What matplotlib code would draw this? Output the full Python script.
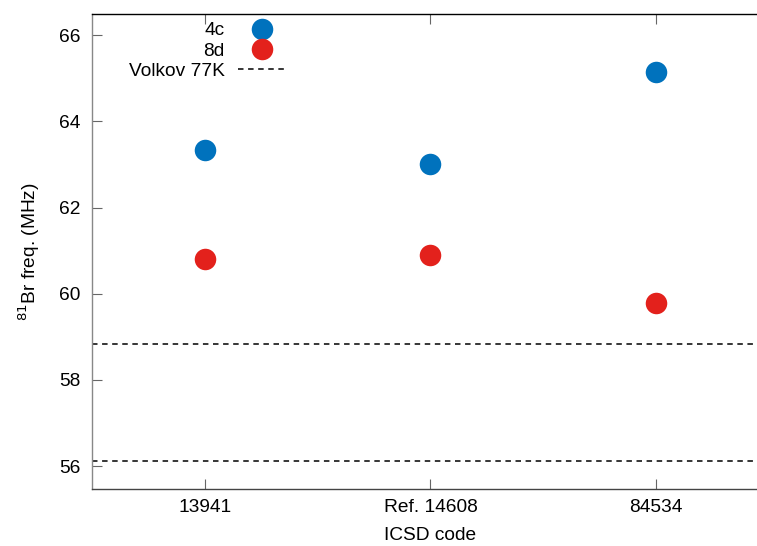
import matplotlib
matplotlib.use("Agg")
import matplotlib.pyplot as plt
from matplotlib.lines import Line2D

categories = ["13941", "Ref. 14608", "84534"]
freq_4c = [63.33, 63.01, 65.14]
freq_8d = [60.80, 60.90, 59.78]
volkov_77k = [58.83, 56.12]
yticks = [56, 58, 60, 62, 64, 66]

plt.rcParams['font.family'] = ['Liberation Sans', 'DejaVu Sans']
fs = 13.8

fig = plt.figure(figsize=(7.57, 5.46), dpi=100)
ax = fig.add_axes([92/757, (546-489)/546, (769-92)/757, (489-14)/546])

blue = "#0072bd"
red = "#e3211c"
x = list(range(len(categories)))

for v in volkov_77k:
    ax.axhline(v, color="black", lw=1.1, ls=(0, (3.6, 3.0)), zorder=1)
ax.plot(x, freq_4c, "o", color=blue, ms=15.5, mec="none", zorder=3)
ax.plot(x, freq_8d, "o", color=red, ms=15.5, mec="none", zorder=3)

ax.set_xlim(-0.5, 2.5)
ax.set_ylim(55.47, 66.49)
ax.set_xticks(x)
ax.set_xticklabels(categories)
ax.set_yticks(yticks)
ax.tick_params(axis="both", direction="in", length=7, width=0.8, color="#666666",
               labelsize=fs, pad=8.5)
ax.tick_params(axis="x", top=True, pad=7)
ax.spines["left"].set_color("#888888")
ax.spines["bottom"].set_color("#444444")
ax.spines["top"].set_color("black")
ax.spines["right"].set_visible(False)
for s in ax.spines.values():
    s.set_linewidth(1.0)

ax.set_xlabel("ICSD code", fontsize=fs, labelpad=8)
ax.set_ylabel("$^{81}$Br freq. (MHz)", fontsize=fs, labelpad=12)

handles = [
    Line2D([], [], marker="o", ls="none", color=blue, ms=15.5, mec="none"),
    Line2D([], [], marker="o", ls="none", color=red, ms=15.5, mec="none"),
    Line2D([], [], color="black", lw=1.1, ls=(0, (3.6, 3.0))),
]
leg = ax.legend(handles, ["4c", "8d", "Volkov 77K"], loc="upper right",
                bbox_to_anchor=(286/757, 1 - 22/546), bbox_transform=fig.transFigure,
                markerfirst=False, frameon=False, fontsize=fs, borderpad=0,
                borderaxespad=0, handlelength=2.5, handletextpad=0.7,
                labelspacing=0.15)

fig.savefig("out.png", dpi=100)
